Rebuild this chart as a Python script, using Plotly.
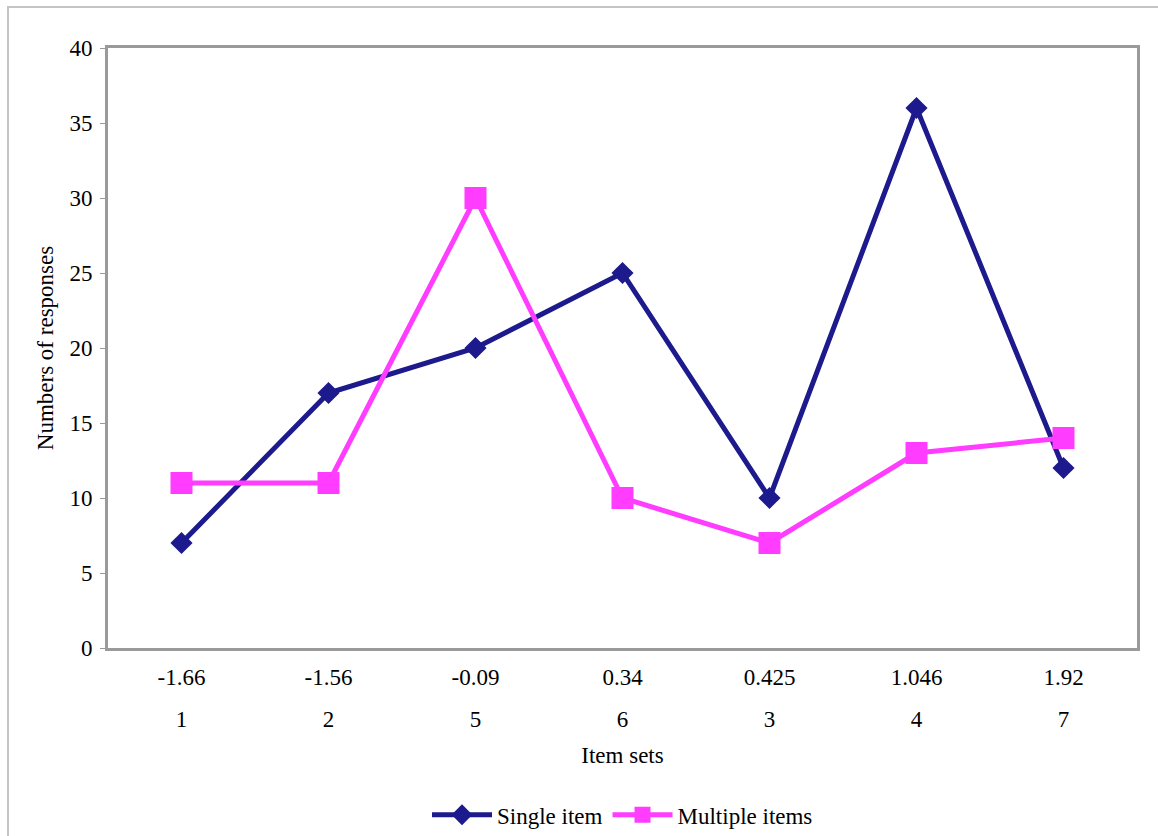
import plotly.graph_objects as go

# Item difficulty labels and item-set numbers along the horizontal axis
difficulty = ["-1.66", "-1.56", "-0.09", "0.34", "0.425", "1.046", "1.92"]
item_set = ["1", "2", "5", "6", "3", "4", "7"]

# Response counts per item set
single_item = [7, 17, 20, 25, 10, 36, 12]
multiple_items = [11, 11, 30, 10, 7, 13, 14]

y_ticks = [0, 5, 10, 15, 20, 25, 30, 35, 40]

NAVY = "#1c1a8c"
MAGENTA = "#ff3cff"
AXIS_GREY = "#9a9a9a"
FONT = dict(family="Liberation Serif, Times New Roman, serif", size=23, color="#000000")

positions = list(range(len(difficulty)))

fig = go.Figure()
fig.add_trace(go.Scatter(
    x=positions, y=single_item, name="Single item", mode="lines+markers",
    line=dict(color=NAVY, width=5),
    marker=dict(symbol="diamond", size=17, color=NAVY),
    cliponaxis=False,
))
fig.add_trace(go.Scatter(
    x=positions, y=multiple_items, name="Multiple items", mode="lines+markers",
    line=dict(color=MAGENTA, width=5),
    marker=dict(symbol="square", size=22, color=MAGENTA),
    cliponaxis=False,
))
# invisible trace that carries the second row of category labels
fig.add_trace(go.Scatter(
    x=positions, y=[None] * len(positions), xaxis="x2", showlegend=False,
    hoverinfo="skip",
))

fig.update_layout(
    width=1158, height=836,
    margin=dict(l=108, r=21, t=48, b=188, autoexpand=False),
    paper_bgcolor="white", plot_bgcolor="white",
    font=FONT,
    showlegend=True,
    legend=dict(orientation="h", x=0.5, xanchor="center", y=-0.278, yanchor="middle",
                font=FONT, itemwidth=60, bgcolor="rgba(0,0,0,0)"),
    xaxis=dict(
        range=[-0.5, len(positions) - 0.5],
        tickmode="array", tickvals=positions, ticktext=difficulty,
        ticks="", showgrid=False, zeroline=False,
        showline=True, linecolor=AXIS_GREY, linewidth=3, mirror=True,
        ticklabelstandoff=6,
        title=dict(text="Item sets", font=FONT, standoff=59),
        automargin=False,
    ),
    xaxis2=dict(
        overlaying="x", side="bottom", anchor="y",
        range=[-0.5, len(positions) - 0.5],
        tickmode="array", tickvals=positions, ticktext=item_set,
        ticks="", showgrid=False, zeroline=False, showline=False,
        ticklabelstandoff=55,
        automargin=False,
    ),
    yaxis=dict(
        range=[0, 40], tickmode="array", tickvals=y_ticks,
        ticks="outside", ticklen=5, tickcolor=AXIS_GREY, tickwidth=1,
        showgrid=False, zeroline=False,
        showline=True, linecolor=AXIS_GREY, linewidth=3, mirror=True,
        ticklabelstandoff=3,
        title=dict(text="Numbers of responses", font=FONT, standoff=10),
        automargin=False,
    ),
    shapes=[dict(
        type="rect", xref="paper", yref="paper",
        x0=(8 - 108) / 1029, x1=(1180 - 108) / 1029,
        y0=(648 - 860) / 600, y1=1 + (48 - 7) / 600,
        line=dict(color="#c4c4c4", width=2), fillcolor="rgba(0,0,0,0)", layer="below",
    )],
)

fig.write_html("out.html")
